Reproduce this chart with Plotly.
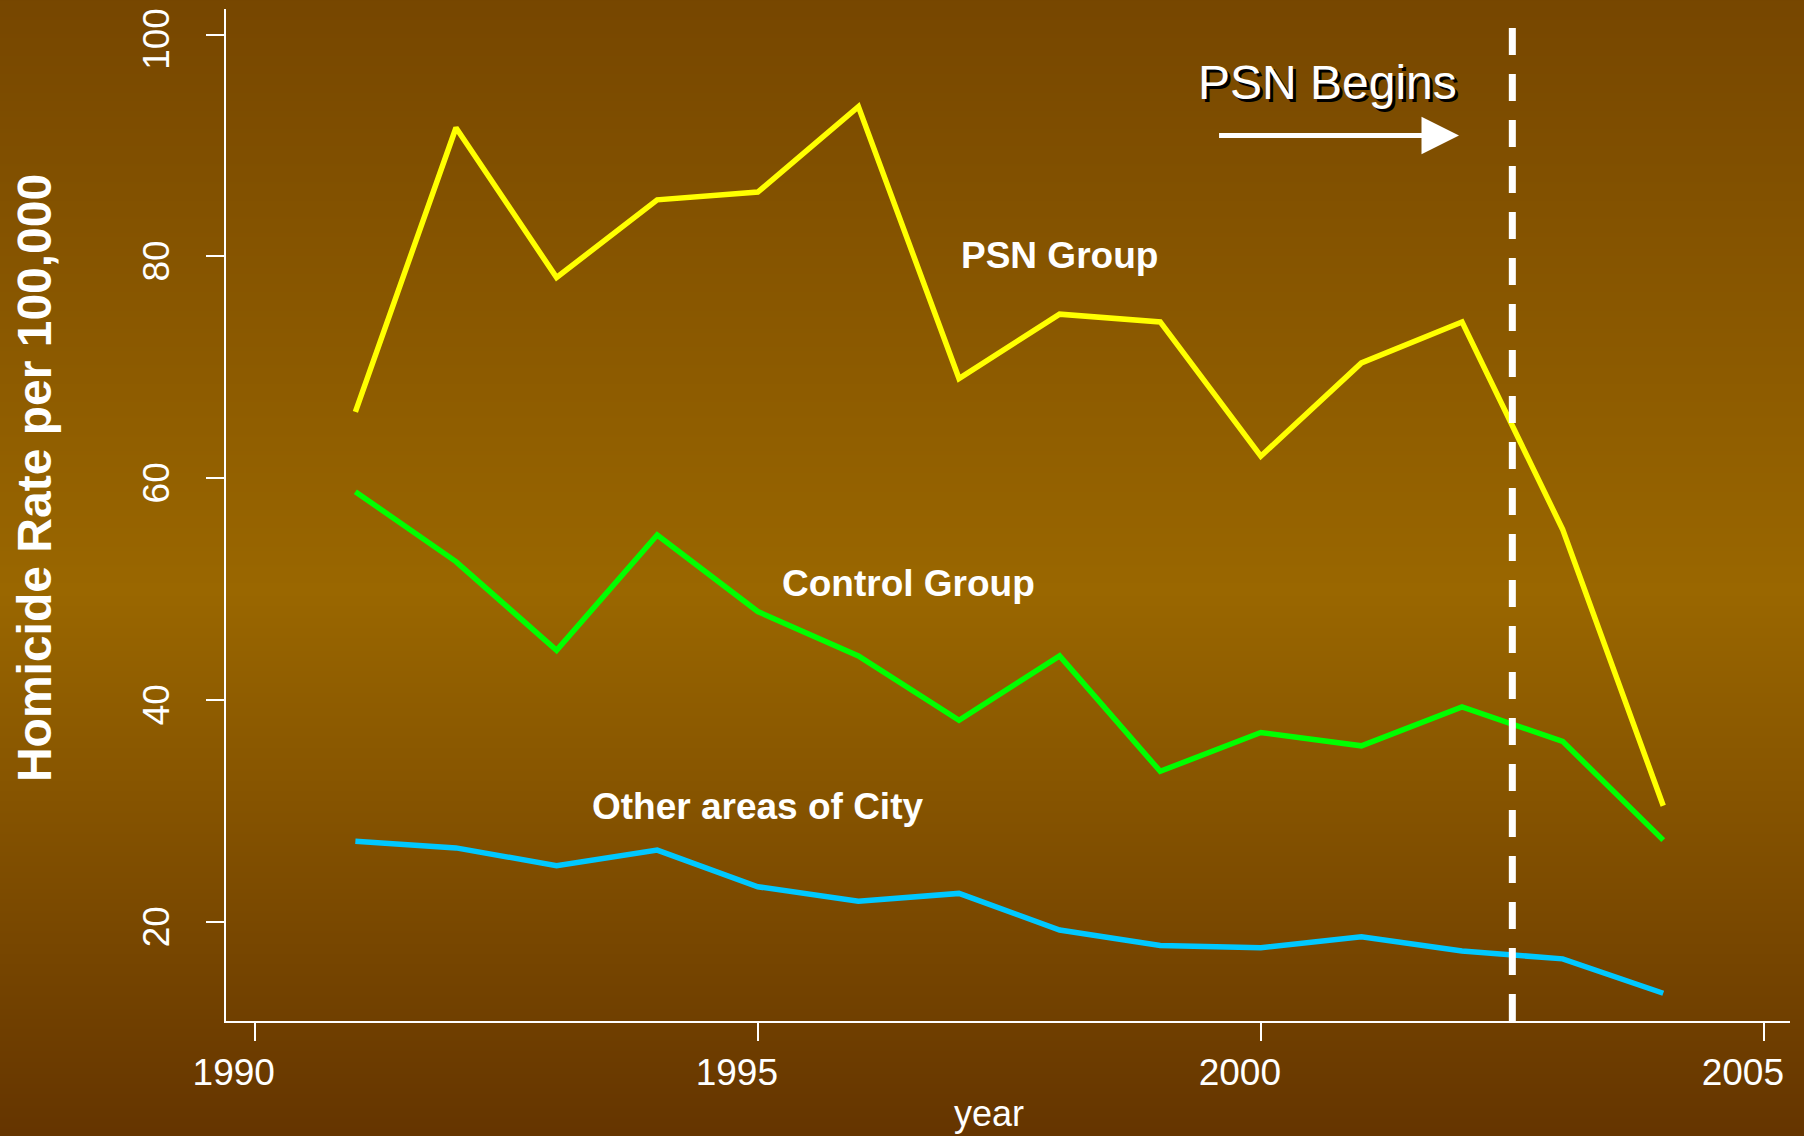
import base64
import struct
import zlib

import plotly.graph_objects as go

# ---------------- data ----------------
years = [1991, 1992, 1993, 1994, 1995, 1996, 1997, 1998, 1999, 2000, 2001, 2002, 2003, 2004]
psn_group = [66.0, 91.6, 78.1, 85.1, 85.8, 93.5, 69.0, 74.8, 74.1, 62.0, 70.4, 74.1, 55.4, 30.5]
control_group = [58.8, 52.5, 44.5, 54.9, 48.0, 44.0, 38.2, 44.0, 33.6, 37.1, 35.9, 39.4, 36.3, 27.4]
other_areas = [27.3, 26.7, 25.1, 26.5, 23.2, 21.9, 22.6, 19.3, 17.9, 17.7, 18.7, 17.4, 16.7, 13.6]

x_ticks = [1990, 1995, 2000, 2005]
y_ticks = [20, 40, 60, 80, 100]
psn_start = 2002.5

# ---------------- layout geometry ----------------
W, H = 1804, 1136
ML, MR, MT, MB = 226, 14, 9, 115
PW, PH = W - ML - MR, H - MT - MB
X_RANGE = [1989.714, 2005.26]
Y_RANGE = [11.1, 102.3]


def px_to_paper_x(px):
    return (px - ML) / PW


def px_to_paper_y(py):
    return (H - MB - py) / PH


# ---------------- gradient background (PNG data URI) ----------------
stops = [(0.0, (118, 70, 0)), (0.52, (154, 103, 0)), (1.0, (100, 52, 0))]


def grad_color(t):
    for (t0, c0), (t1, c1) in zip(stops[:-1], stops[1:]):
        if t0 <= t <= t1:
            f = (t - t0) / (t1 - t0)
            return tuple(int(round(a + (b - a) * f)) for a, b in zip(c0, c1))
    return stops[-1][1]


def make_png(w, h):
    raw = b""
    for j in range(h):
        c = grad_color(j / (h - 1))
        raw += b"\x00" + bytes(c) * w

    def chunk(tag, data):
        return struct.pack(">I", len(data)) + tag + data + struct.pack(">I", zlib.crc32(tag + data) & 0xFFFFFFFF)

    ihdr = struct.pack(">IIBBBBB", w, h, 8, 2, 0, 0, 0)
    return b"\x89PNG\r\n\x1a\n" + chunk(b"IHDR", ihdr) + chunk(b"IDAT", zlib.compress(raw, 9)) + chunk(b"IEND", b"")


bg_uri = "data:image/png;base64," + base64.b64encode(make_png(4, 568)).decode()

FONT = "Liberation Sans, Arial, Helvetica, sans-serif"
LW = 5.5

fig = go.Figure()
fig.add_trace(go.Scatter(x=years, y=psn_group, mode="lines", line=dict(color="#FFFF00", width=LW), name="PSN Group"))
fig.add_trace(go.Scatter(x=years, y=control_group, mode="lines", line=dict(color="#00FF00", width=LW), name="Control Group"))
fig.add_trace(go.Scatter(x=years, y=other_areas, mode="lines", line=dict(color="#00C8FF", width=LW), name="Other areas of City"))

# PSN start line
fig.add_shape(type="line", xref="x", yref="y", x0=psn_start, x1=psn_start, y0=Y_RANGE[0], y1=Y_RANGE[1],
              line=dict(color="white", width=7, dash="27px,19px"), layer="above")

annotations = [
    dict(text="<b>PSN Group</b>", x=1998, y=80.1, xref="x", yref="y", showarrow=False,
         font=dict(family=FONT, size=37, color="white")),
    dict(text="<b>Control Group</b>", x=1996.5, y=50.5, xref="x", yref="y", showarrow=False,
         font=dict(family=FONT, size=37, color="white")),
    dict(text="<b>Other areas of City</b>", x=1995, y=30.4, xref="x", yref="y", showarrow=False,
         font=dict(family=FONT, size=37, color="white")),
    # shadow + text
    dict(text="PSN Begins", x=2000.66, y=95.65, xref="x", yref="y", showarrow=False, xshift=3, yshift=-3,
         font=dict(family=FONT, size=48, color="black")),
    dict(text="PSN Begins", x=2000.66, y=95.65, xref="x", yref="y", showarrow=False,
         font=dict(family=FONT, size=48, color="white")),
    # arrow
    dict(text="", x=2001.97, y=90.9, ax=1999.57, ay=90.9, xref="x", yref="y", axref="x", ayref="y",
         showarrow=True, arrowhead=2, arrowwidth=5, arrowsize=1.5, arrowcolor="white", standoff=0, startstandoff=0),
    # axis titles
    dict(text="<b>Homicide Rate per 100,000</b>", x=px_to_paper_x(34.5), y=px_to_paper_y(478.6),
         xref="paper", yref="paper", showarrow=False, textangle=-90,
         font=dict(family=FONT, size=48, color="white"), xanchor="center", yanchor="middle"),
    dict(text="year", x=px_to_paper_x(989.4), y=px_to_paper_y(1113.7), xref="paper", yref="paper",
         showarrow=False, font=dict(family=FONT, size=36, color="white"), xanchor="center", yanchor="middle"),
]

fig.update_layout(
    width=W, height=H,
    margin=dict(l=ML, r=MR, t=MT, b=MB, pad=0, autoexpand=False),
    paper_bgcolor="rgb(116,68,0)",
    plot_bgcolor="rgba(0,0,0,0)",
    showlegend=False,
    annotations=annotations,
    images=[dict(source=bg_uri, xref="paper", yref="paper", x=px_to_paper_x(-10), y=px_to_paper_y(-10),
                 sizex=(W + 20) / PW, sizey=(H + 20) / PH, xanchor="left", yanchor="top", sizing="stretch",
                 layer="below")],
    xaxis=dict(range=X_RANGE, tickvals=x_ticks, ticktext=[str(v) for v in x_ticks], showgrid=False, zeroline=False,
               showline=True, linecolor="white", linewidth=1.5, ticks="outside", ticklen=18, tickwidth=1.5,
               tickcolor="white", tickfont=dict(family=FONT, size=37, color="white"), ticklabelstandoff=0,
               ticklabelshift=-21, ticklabeloverflow="allow", automargin=False),
    yaxis=dict(range=Y_RANGE, tickvals=y_ticks, ticktext=[str(v) for v in y_ticks], showgrid=False, zeroline=False,
               showline=True, linecolor="white", linewidth=1.5, ticks="outside", ticklen=18, tickwidth=1.5,
               tickcolor="white", tickangle=-90, tickfont=dict(family=FONT, size=37, color="white"),
               ticklabelstandoff=22, ticklabelshift=10, ticklabeloverflow="allow", automargin=False),
)

fig.write_html("out.html", config={"displayModeBar": False},
               post_script="document.body.style.margin='0px';document.body.style.overflow='hidden';")
